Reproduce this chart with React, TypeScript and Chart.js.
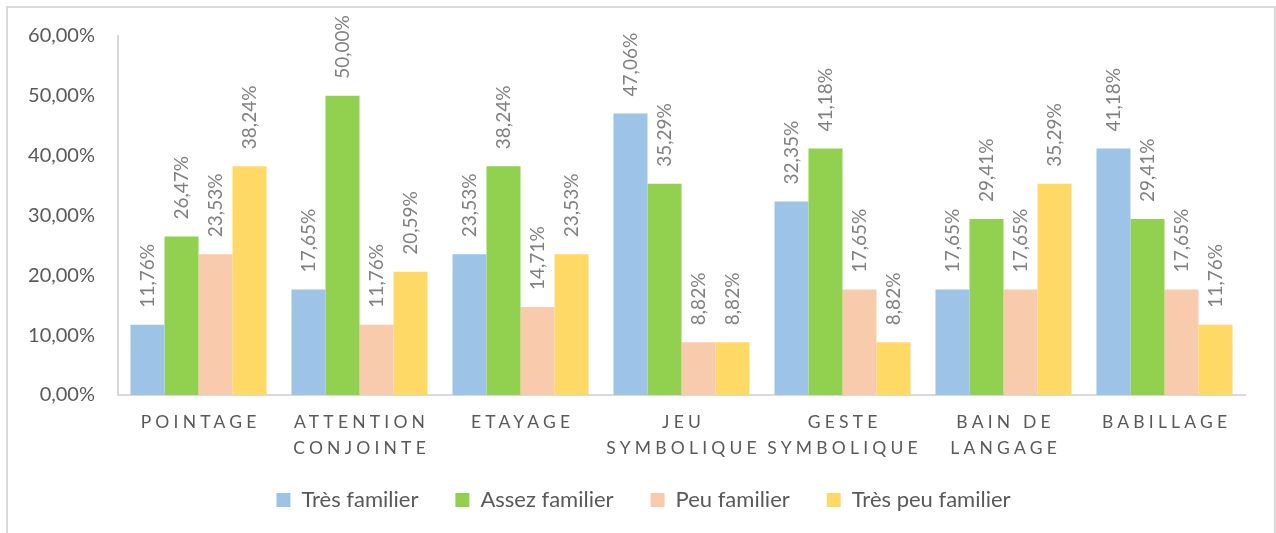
import React, { useEffect, useRef } from "react";
import { Chart, registerables } from "chart.js";

Chart.register(...registerables);

const categories: string[][] = [
  ["POINTAGE"],
  ["ATTENTION", "CONJOINTE"],
  ["ETAYAGE"],
  ["JEU", "SYMBOLIQUE"],
  ["GESTE", "SYMBOLIQUE"],
  ["BAIN DE", "LANGAGE"],
  ["BABILLAGE"],
];

const seriesNames = ["Très familier", "Assez familier", "Peu familier", "Très peu familier"];
const tresFamilier = [11.76, 17.65, 23.53, 47.06, 32.35, 17.65, 41.18];
const assezFamilier = [26.47, 50.0, 38.24, 35.29, 41.18, 29.41, 29.41];
const peuFamilier = [23.53, 11.76, 14.71, 8.82, 17.65, 17.65, 17.65];
const tresPeuFamilier = [38.24, 20.59, 23.53, 8.82, 8.82, 35.29, 11.76];
const seriesColors = ["#9DC3E6", "#92D050", "#F8CBAD", "#FFD966"];

const yMin = 0;
const yMax = 60;
const yStep = 10;

const fmt = (v: number) => v.toFixed(2).replace(".", ",") + "%";

const FONT = "Lato, 'Open Sans', sans-serif";

const dataLabelPlugin = {
  id: "rotLabels",
  afterDatasetsDraw(chart: any) {
    const ctx = chart.ctx;
    ctx.save();
    ctx.fillStyle = "#808080";
    ctx.font = `19px ${FONT}`;
    ctx.textAlign = "left";
    ctx.textBaseline = "middle";
    chart.data.datasets.forEach((ds: any, di: number) => {
      const meta = chart.getDatasetMeta(di);
      meta.data.forEach((el: any, i: number) => {
        ctx.save();
        ctx.translate(el.x, el.y - 17);
        ctx.rotate(-Math.PI / 2);
        ctx.fillText(fmt(ds.data[i]), 0, 0);
        ctx.restore();
      });
    });
    ctx.restore();
  },
};

const xLabelPlugin = {
  id: "xLabels",
  afterDraw(chart: any) {
    const ctx = chart.ctx;
    const scale = chart.scales.x;
    const spacing = 4.2;
    ctx.save();
    ctx.fillStyle = "#595959";
    ctx.font = `17.5px ${FONT}`;
    ctx.textAlign = "left";
    ctx.textBaseline = "middle";
    (ctx as any).letterSpacing = `${spacing}px`;
    categories.forEach((lines, i) => {
      const cx = scale.getPixelForTick(i);
      lines.forEach((line, li) => {
        const w = ctx.measureText(line).width - spacing;
        ctx.fillText(line, cx - w / 2, scale.top + 27 + li * 26.5);
      });
    });
    ctx.restore();
  },
};

const legendShiftPlugin = {
  id: "legendShift",
  afterLayout(chart: any) {
    const lg = chart.legend;
    if (lg) {
      lg.left += 21;
      lg.right += 21;
    }
  },
};

export default function App() {
  const ref = useRef<HTMLCanvasElement | null>(null);

  useEffect(() => {
    if (!ref.current) return;
    const data = [tresFamilier, assezFamilier, peuFamilier, tresPeuFamilier];
    const chart = new Chart(ref.current, {
      type: "bar",
      data: {
        labels: categories.map((c) => c.join(" ")),
        datasets: seriesNames.map((name, k) => ({
          label: name,
          data: data[k],
          backgroundColor: seriesColors[k],
          borderWidth: 0,
          categoryPercentage: 0.845,
          barPercentage: 1,
        })),
      },
      options: {
        responsive: false,
        animation: false,
        devicePixelRatio: 1,
        layout: { padding: { top: 36, right: 31, left: 0, bottom: 12 } },
        plugins: {
          legend: {
            position: "bottom",
            labels: {
              boxWidth: 14,
              boxHeight: 14,
              padding: 37,
              color: "#595959",
              font: { family: FONT, size: 22 },
            },
          },
          tooltip: { enabled: false },
        },
        scales: {
          x: {
            grid: { display: false, drawTicks: false },
            border: { display: true, color: "#D9D9D9", width: 2 },
            ticks: { display: false },
            afterFit: (s: any) => {
              s.height = 57;
            },
          },
          y: {
            min: yMin,
            max: yMax,
            grid: { display: false, drawTicks: false },
            border: { display: true, color: "#D9D9D9", width: 2 },
            ticks: {
              stepSize: yStep,
              padding: 23,
              color: "#595959",
              font: { family: FONT, size: 20 },
              callback: (v: any) => fmt(Number(v)),
            },
            afterFit: (s: any) => {
              s.width = 118;
            },
          },
        },
      },
      plugins: [dataLabelPlugin, xLabelPlugin, legendShiftPlugin],
    });
    return () => chart.destroy();
  }, []);

  return (
    <div
      style={{
        position: "fixed",
        left: 0,
        top: 0,
        width: 1276,
        height: 533,
        overflow: "hidden",
        background: "#fff",
      }}
    >
      <div
        style={{
          position: "absolute",
          left: 6,
          top: 6,
          width: 1266,
          height: 600,
          border: "2px solid #D9D9D9",
        }}
      />
      <canvas ref={ref} width={1276} height={533} style={{ position: "absolute", left: 0, top: 0 }} />
    </div>
  );
}
